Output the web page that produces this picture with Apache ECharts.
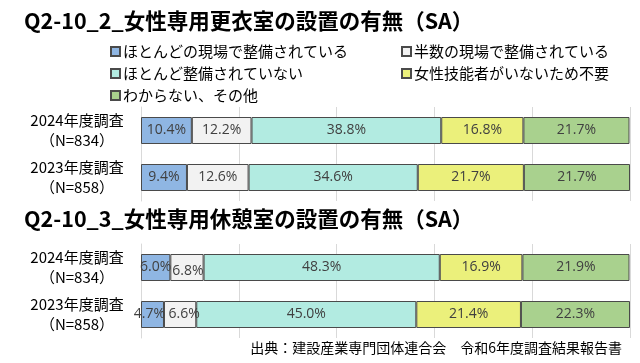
<!DOCTYPE html>
<html><head><meta charset="utf-8">
<script src="https://cdn.jsdelivr.net/npm/echarts@6/dist/echarts.min.js"></script>
<style>html,body{margin:0;padding:0;background:#fff}#c{width:640px;height:363px}</style>
</head><body><div id="c"></div>
<script>
const categories = ['2024年度調査\n（N=834）', '2023年度調査\n（N=858）'];
const seriesNames = ['ほとんどの現場で整備されている', '半数の現場で整備されている', 'ほとんど整備されていない', '女性技能者がいないため不要', 'わからない、その他'];
const titles = ['Q2-10_2_女性専用更衣室の設置の有無（SA）', 'Q2-10_3_女性専用休憩室の設置の有無（SA）'];
// chart 1: 更衣室 [2024, 2023]
const locker1 = [10.4, 9.4];
const locker2 = [12.2, 12.6];
const locker3 = [38.8, 34.6];
const locker4 = [16.8, 21.7];
const locker5 = [21.7, 21.7];
// chart 2: 休憩室 [2024, 2023]
const rest1 = [6.0, 4.7];
const rest2 = [6.8, 6.6];
const rest3 = [48.3, 45.0];
const rest4 = [16.9, 21.4];
const rest5 = [21.9, 22.3];
const source = '出典：建設産業専門団体連合会　令和6年度調査結果報告書';

const colors = ['#8fb6e3', '#f2f2f2', '#b2ebe1', '#ebf07b', '#a9d18e'];
const jp = '"Noto Sans CJK JP", sans-serif';
const num = '"Open Sans", "Noto Sans", sans-serif';

const chart = echarts.init(document.getElementById('c'), null, {renderer: 'canvas'});
const lockerData = [locker1, locker2, locker3, locker4, locker5];
const restData = [rest1, rest2, rest3, rest4, rest5];

function mkSeries(data, idx) {
  return data.map((vals, i) => ({
    name: seriesNames[i],
    type: 'bar',
    stack: 'g' + idx,
    xAxisIndex: idx, yAxisIndex: idx,
    barWidth: 27,
    data: vals,
    itemStyle: {color: colors[i], borderColor: '#4a4a4a', borderWidth: 1},
    label: {
      show: true, position: 'inside',
      formatter: p => p.value.toFixed(1) + '%',
      color: '#404040', fontSize: 14, fontFamily: num,
      overflow: 'none'
    },
    emphasis: {disabled: true},
    animation: false
  }));
}
const s2 = mkSeries(restData, 1);
// manual label nudges as in reference
s2[1].data = rest2.map((v, j) => ({value: v, label: {offset: j === 0 ? [1, 4] : [4, 0]}}));
s2[0].data = rest1.map((v, j) => ({value: v, label: {offset: j === 0 ? [0, 0] : [-3, 0]}}));

const xAx = i => ({
  gridIndex: i, type: 'value', min: 0, max: 100, interval: 20,
  axisLabel: {show: false}, axisTick: {show: false}, axisLine: {show: false},
  splitLine: {show: true, lineStyle: {color: '#d9d9d9', width: 1}}
});
const yAx = i => ({
  gridIndex: i, type: 'category', data: categories, inverse: true,
  axisLine: {show: true, lineStyle: {color: '#d9d9d9'}}, axisTick: {show: false},
  axisLabel: {align: 'center', margin: 64, fontSize: 15, lineHeight: 20, color: '#000', fontFamily: jp}
});

const legText = {fontFamily: jp, fontSize: 15, color: '#000', padding: [0, 0, 0, -2]};
chart.setOption({
  backgroundColor: '#fff',
  animation: false,
  title: [
    {text: titles[0], left: 19, top: 5, textStyle: {fontFamily: jp, fontSize: 21.5, fontWeight: 'bold', color: '#000'}},
    {text: titles[1], left: 19, top: 203, textStyle: {fontFamily: jp, fontSize: 21.5, fontWeight: 'bold', color: '#000'}}
  ],
  legend: [
    {data: [seriesNames[0], seriesNames[2], seriesNames[4]], orient: 'vertical', left: 105, top: 39, itemGap: 7,
     itemWidth: 9, itemHeight: 9, icon: 'rect', textStyle: legText, selectedMode: false},
    {data: [seriesNames[1], seriesNames[3]], orient: 'vertical', left: 396, top: 39, itemGap: 7,
     itemWidth: 9, itemHeight: 9, icon: 'rect', textStyle: legText, selectedMode: false}
  ],
  grid: [
    {left: 141, right: 10, top: 107, height: 94},
    {left: 141, right: 10, top: 244, height: 94}
  ],
  xAxis: [xAx(0), xAx(1)],
  yAxis: [yAx(0), yAx(1)],
  series: mkSeries(lockerData, 0).concat(s2),
  graphic: [
    {type: 'text', right: 18, top: 341, style: {text: source, font: '14px ' + jp, fill: '#000'}}
  ]
});
</script>
</body></html>
